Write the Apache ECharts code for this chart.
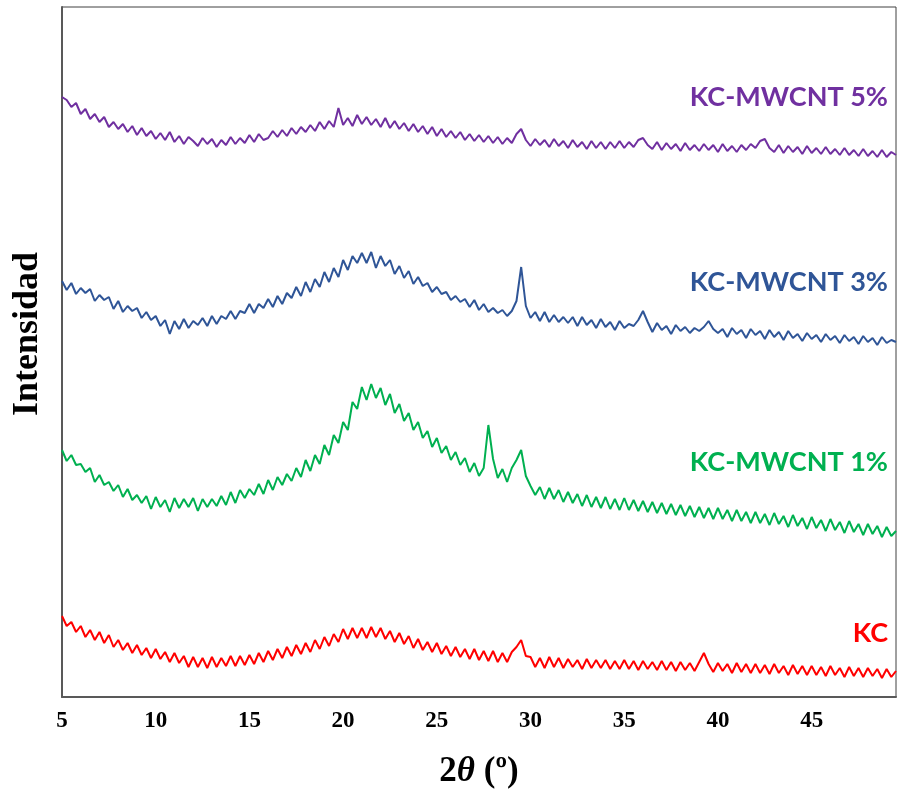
<!DOCTYPE html>
<html>
<head>
<meta charset="utf-8">
<script src="https://cdn.jsdelivr.net/npm/echarts@6/dist/echarts.min.js"></script>
<style>html,body{margin:0;padding:0;background:#fff}#c{width:897px;height:796px}</style>
</head>
<body>
<div id="c"></div>
<script>
// 2θ scan: start 5°, step 0.25°
const SCAN_START = 5;
const SCAN_STEP = 0.25;
const seriesNames = ['KC-MWCNT 5%', 'KC-MWCNT 3%', 'KC-MWCNT 1%', 'KC'];
const seriesColors = ['#7030A0', '#2F5597', '#00B050', '#FF0000'];
const xTicks = [5, 10, 15, 20, 25, 30, 35, 40, 45];

const mwcnt5 = [
600,597,590,594, 583,588,578,583, 575,580,570,575, 568,573,565,571, 562,569,561,566,
558,564,557,565, 555,561,553,560, 556,551,559,553, 558,550,557,552, 560,553,559,554,
562,555,563,557, 559,566,560,567, 561,569,563,570, 565,572,566,575, 568,576,570,589,
572,579,571,582, 573,580,572,578, 570,579,569,576, 568,574,566,573, 565,571,563,570,
561,568,560,566, 559,565,557,563, 556,562,555,561, 554,560,553,559, 554,563,568,557,
551,558,552,557, 550,558,551,556, 549,557,550,555, 548,556,549,555, 548,555,549,556,
549,555,550,557, 559,552,548,555, 547,554,548,553, 546,554,547,552, 546,553,547,552,
545,553,546,551, 545,552,547,553, 549,556,558,549, 545,552,544,551, 545,550,543,551,
544,549,543,550, 543,548,542,549, 542,547,541,548, 541,546,540,547, 540,545,542
];
const mwcnt3 = [
416,407,414,403, 409,404,408,396, 402,397,400,388, 396,385,391,386, 389,379,385,377,
381,371,377,363, 376,368,378,369, 376,372,379,371, 381,373,381,378, 386,378,386,384,
393,384,393,389, 398,390,401,393, 404,399,410,401, 415,405,418,410, 425,415,429,420,
437,427,441,434, 444,434,445,429, 441,431,437,423, 431,419,426,413, 420,411,414,405,
410,403,405,397, 401,395,398,390, 397,387,393,385, 389,384,387,381, 386,396,430,391,
379,385,376,385, 375,382,375,380, 374,380,371,380, 372,377,369,378, 370,375,367,376,
369,373,371,377, 386,375,365,374, 367,371,363,372, 366,370,364,369, 366,370,376,368,
364,368,360,369, 363,367,359,368, 362,366,358,367, 360,365,357,366, 359,363,356,364,
358,362,355,363, 357,361,354,362, 356,360,353,361, 355,359,352,360, 354,357,355
];
const mwcnt1 = [
247,236,242,232, 233,225,229,215, 222,212,215,206, 212,200,208,197, 202,194,201,188,
200,190,197,185, 199,189,198,190, 199,186,198,190, 198,191,201,192, 205,194,207,199,
208,202,213,203, 217,207,220,212, 223,216,229,220, 237,226,242,233, 252,242,262,254,
275,267,295,288, 310,297,313,299, 309,292,303,284, 293,276,284,267, 275,259,266,250,
259,244,251,237, 245,232,239,225, 234,221,229,272, 238,219,228,215, 229,237,247,221,
211,202,210,198, 209,198,207,195, 205,194,203,191, 202,190,200,189, 200,188,198,187,
199,187,197,186, 196,185,195,184, 194,183,193,182, 192,181,191,180, 190,179,189,178,
189,178,187,176, 187,176,185,174, 185,174,183,172, 184,173,181,170, 182,171,179,168,
180,169,177,166, 178,167,175,164, 176,165,173,162, 173,163,171,160, 170,161,166
];
const kc = [
81,71,75,65, 71,60,67,57, 65,54,62,50, 57,47,54,44, 52,42,49,39,
48,38,45,35, 44,34,41,30, 40,30,39,29, 40,30,39,31, 41,31,41,32,
42,33,44,35, 46,37,48,39, 50,41,52,43, 54,45,57,48, 60,51,63,55,
68,58,69,59, 69,59,70,60, 69,58,66,55, 64,53,61,49, 58,47,55,45,
54,43,51,41, 50,40,48,38, 48,37,46,36, 46,35,44,35, 45,50,57,41,
40,30,39,29, 40,30,39,29, 38,30,37,28, 38,29,37,29, 37,28,36,28,
37,28,36,27, 36,28,35,27, 36,27,35,26, 35,27,34,26, 35,44,33,25,
34,26,33,24, 34,25,33,24, 33,24,32,23, 33,24,31,22, 32,23,31,22,
31,22,30,21, 31,22,29,20, 30,21,29,20, 29,21,28,19, 28,20,26
];
const allSeries = [mwcnt5, mwcnt3, mwcnt1, kc];
const labelY = [100, 285, 465, 636];

function pairs(arr) {
  return arr.map((v, i) => [SCAN_START + i * SCAN_STEP, v]);
}

const chart = echarts.init(document.getElementById('c'), null, {renderer: 'canvas'});
chart.setOption({
  animation: false,
  backgroundColor: '#ffffff',
  grid: {left: 62, right: 1, top: 7, bottom: 99, show: true, borderColor: '#404040', borderWidth: 1,
         containLabel: false, outerBoundsMode: 'none'},
  xAxis: {
    type: 'value', min: 5, max: 49.5, interval: 5,
    axisLine: {show: true, lineStyle: {color: '#595959', width: 2}},
    axisTick: {show: false},
    splitLine: {show: false},
    axisLabel: {
      showMaxLabel: false, margin: 13,
      fontFamily: 'Liberation Serif', fontWeight: 'bold', fontSize: 23, color: '#000',
      formatter: v => xTicks.indexOf(v) >= 0 ? String(v) : ''
    },
    name: '{n|2}{t|θ}{n| (º)}',
    nameLocation: 'middle', nameGap: 57,
    nameTextStyle: {
      rich: {
        n: {fontFamily: 'Liberation Serif', fontWeight: 'bold', fontSize: 35, color: '#000'},
        t: {fontFamily: 'Liberation Serif', fontWeight: 'bold', fontStyle: 'italic', fontSize: 35, color: '#000'}
      }
    }
  },
  yAxis: {
    type: 'value', min: 0, max: 690,
    axisLine: {show: true, lineStyle: {color: '#595959', width: 2}},
    axisTick: {show: false},
    axisLabel: {show: false},
    splitLine: {show: false}
  },
  series: allSeries.map((arr, k) => ({
    name: seriesNames[k], type: 'line', data: pairs(arr),
    showSymbol: false, symbol: 'none',
    lineStyle: {color: seriesColors[k], width: 2},
    itemStyle: {color: seriesColors[k]}
  })),
  graphic: seriesNames.map((nm, k) => ({
    type: 'text', right: 9, top: labelY[k] - 16,
    style: {text: nm, fill: seriesColors[k], font: 'bold 27px Lato', textAlign: 'right'}
  })).concat([{
    type: 'text', x: 28, y: 334, rotation: Math.PI / 2,
    style: {text: 'Intensidad', fill: '#000', font: 'bold 36px "Liberation Serif"',
            textAlign: 'center', textVerticalAlign: 'middle'}
  }])
});
</script>
</body>
</html>
